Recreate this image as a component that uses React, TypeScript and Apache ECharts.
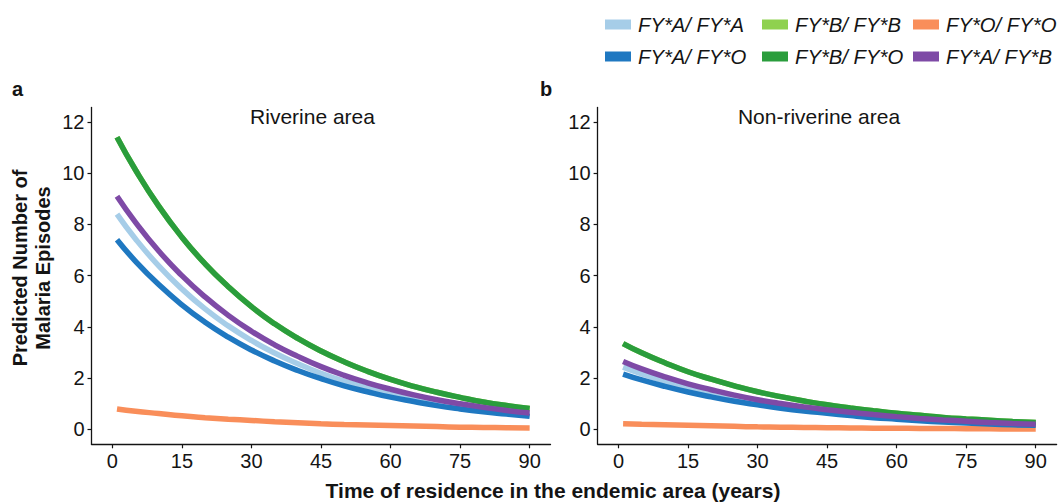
import React, { useEffect, useRef } from "react";
import * as echarts from "echarts";

const years = [1, 5, 10, 15, 20, 25, 30, 35, 40, 45, 50, 55, 60, 65, 70, 75, 80, 85, 90];
const xTicks = [0, 15, 30, 45, 60, 75, 90];
const yTicks = [0, 2, 4, 6, 8, 10, 12];

const genotypes = ["FY*A/ FY*A", "FY*B/ FY*B", "FY*O/ FY*O", "FY*A/ FY*O", "FY*B/ FY*O", "FY*A/ FY*B"];
const colors = ["#a6cde8", "#8fd14f", "#f98e5a", "#1f78c1", "#2a9d3c", "#7e4aa6"];

// Riverine area
const rivAA = [8.40, 7.43, 6.38, 5.48, 4.70, 4.04, 3.47, 2.98, 2.56, 2.19, 1.88, 1.62, 1.39, 1.19, 1.02, 0.88, 0.76, 0.65, 0.56];
const rivBB = [11.40, 10.12, 8.71, 7.50, 6.46, 5.57, 4.79, 4.12, 3.55, 3.06, 2.64, 2.27, 1.95, 1.68, 1.45, 1.25, 1.07, 0.93, 0.82];
const rivOO = [0.80, 0.71, 0.62, 0.53, 0.46, 0.40, 0.35, 0.30, 0.26, 0.22, 0.19, 0.17, 0.15, 0.13, 0.11, 0.09, 0.08, 0.07, 0.06];
const rivAO = [7.40, 6.56, 5.65, 4.86, 4.18, 3.60, 3.10, 2.67, 2.30, 1.98, 1.70, 1.47, 1.26, 1.09, 0.93, 0.80, 0.69, 0.60, 0.51];
const rivBO = [11.40, 10.12, 8.71, 7.50, 6.46, 5.57, 4.79, 4.12, 3.55, 3.06, 2.64, 2.27, 1.95, 1.68, 1.45, 1.25, 1.07, 0.93, 0.82];
const rivAB = [9.10, 8.08, 6.96, 6.00, 5.17, 4.45, 3.83, 3.30, 2.85, 2.45, 2.11, 1.82, 1.57, 1.35, 1.16, 1.00, 0.86, 0.74, 0.64];

// Non-riverine area
const nonAA = [2.43, 2.17, 1.88, 1.63, 1.42, 1.23, 1.06, 0.92, 0.80, 0.70, 0.61, 0.53, 0.46, 0.40, 0.34, 0.29, 0.25, 0.21, 0.18];
const nonBB = [3.35, 2.99, 2.60, 2.25, 1.96, 1.70, 1.47, 1.28, 1.11, 0.96, 0.84, 0.73, 0.63, 0.55, 0.47, 0.41, 0.36, 0.31, 0.27];
const nonOO = [0.22, 0.20, 0.18, 0.16, 0.14, 0.12, 0.10, 0.09, 0.08, 0.07, 0.06, 0.05, 0.045, 0.04, 0.035, 0.03, 0.025, 0.02, 0.02];
const nonAO = [2.16, 1.93, 1.68, 1.46, 1.27, 1.10, 0.96, 0.83, 0.72, 0.63, 0.54, 0.46, 0.40, 0.34, 0.29, 0.25, 0.21, 0.18, 0.16];
const nonBO = [3.35, 2.99, 2.60, 2.25, 1.96, 1.70, 1.47, 1.28, 1.11, 0.96, 0.84, 0.73, 0.63, 0.55, 0.47, 0.41, 0.36, 0.31, 0.27];
const nonAB = [2.65, 2.36, 2.05, 1.78, 1.55, 1.34, 1.16, 1.01, 0.88, 0.77, 0.67, 0.58, 0.50, 0.43, 0.37, 0.32, 0.27, 0.23, 0.20];

const riverine = [rivAA, rivBB, rivOO, rivAO, rivBO, rivAB];
const nonRiverine = [nonAA, nonBB, nonOO, nonAO, nonBO, nonAB];

const FONT = '"Liberation Sans", Arial, sans-serif';
const INK = "#141414";

function xAxisCfg(gridIndex: number) {
  return {
    type: "value",
    gridIndex,
    min: -4.5,
    max: 94.5,
    axisLine: { show: true, onZero: false, lineStyle: { color: INK, width: 1.3 } },
    axisTick: { show: true, length: 4, customValues: xTicks, lineStyle: { color: INK, width: 1.2 } },
    axisLabel: { customValues: xTicks, fontSize: 20, fontFamily: FONT, color: INK, margin: 7 },
    splitLine: { show: false },
  };
}

function yAxisCfg(gridIndex: number) {
  return {
    type: "value",
    gridIndex,
    min: -0.58,
    max: 12.56,
    axisLine: { show: true, onZero: false, lineStyle: { color: INK, width: 1.3 } },
    axisTick: { show: true, length: 4, customValues: yTicks, lineStyle: { color: INK, width: 1.2 } },
    axisLabel: { customValues: yTicks, fontSize: 20, fontFamily: FONT, color: INK, margin: 7 },
    splitLine: { show: false },
  };
}

function panelSeries(values: number[][], idx: number) {
  return values.map((vals, i) => ({
    type: "line",
    name: genotypes[i],
    xAxisIndex: idx,
    yAxisIndex: idx,
    data: years.map((y, j) => [y, vals[j]]),
    smooth: true,
    symbol: "none",
    lineStyle: { width: 5.5, color: colors[i] },
    itemStyle: { color: colors[i] },
  }));
}

const legendCols = [605, 762, 913];
const legendRows = [14, 46];

export default function App() {
  const ref = useRef<HTMLDivElement>(null);
  useEffect(() => {
    if (!ref.current) return;
    const chart = echarts.init(ref.current, null, { renderer: "svg" });
    const legends = genotypes.map((g, i) => ({
      data: [g],
      left: legendCols[i % 3],
      top: legendRows[Math.floor(i / 3)],
      padding: 0,
      icon: "rect",
      itemWidth: 26,
      itemHeight: 10,
      textStyle: { fontSize: 20.3, fontStyle: "italic", fontFamily: FONT, color: INK, lineHeight: 21, padding: [0, 0, 0, 2] },
      selectedMode: false,
    }));
    chart.setOption({
      animation: false,
      backgroundColor: "#ffffff",
      legend: legends,
      grid: [
        { left: 91.5, top: 107.5, width: 459, height: 336.8 },
        { left: 597.6, top: 107.5, width: 459, height: 336.8 },
      ],
      xAxis: [xAxisCfg(0), xAxisCfg(1)],
      yAxis: [yAxisCfg(0), yAxisCfg(1)],
      series: [...panelSeries(riverine, 0), ...panelSeries(nonRiverine, 1)],
      graphic: [
        { type: "text", x: 12, y: 88.5, style: { text: "a", fontSize: 20, fontWeight: "bold", fontFamily: FONT, fill: INK, verticalAlign: "middle" } },
        { type: "text", x: 540, y: 88.5, style: { text: "b", fontSize: 20, fontWeight: "bold", fontFamily: FONT, fill: INK, verticalAlign: "middle" } },
        { type: "text", x: 312.5, y: 116, style: { text: "Riverine area", fontSize: 21, fontFamily: FONT, fill: INK, align: "center", verticalAlign: "middle" } },
        { type: "text", x: 819, y: 116, style: { text: "Non-riverine area", fontSize: 21, fontFamily: FONT, fill: INK, align: "center", verticalAlign: "middle" } },
        {
          type: "text",
          x: 553,
          y: 490,
          style: { text: "Time of residence in the endemic area (years)", fontSize: 21, fontWeight: "bold", fontFamily: FONT, fill: INK, align: "center", verticalAlign: "middle" },
        },
        {
          type: "text",
          x: 31,
          y: 268,
          rotation: Math.PI / 2,
          style: {
            text: "Predicted Number of\nMalaria Episodes",
            fontSize: 20,
            fontWeight: "bold",
            fontFamily: FONT,
            fill: INK,
            align: "center",
            verticalAlign: "middle",
            lineHeight: 23,
          },
        },
      ],
    });
    return () => chart.dispose();
  }, []);
  return <div ref={ref} style={{ width: 1064, height: 503, position: "absolute", left: 0, top: 0 }} />;
}
